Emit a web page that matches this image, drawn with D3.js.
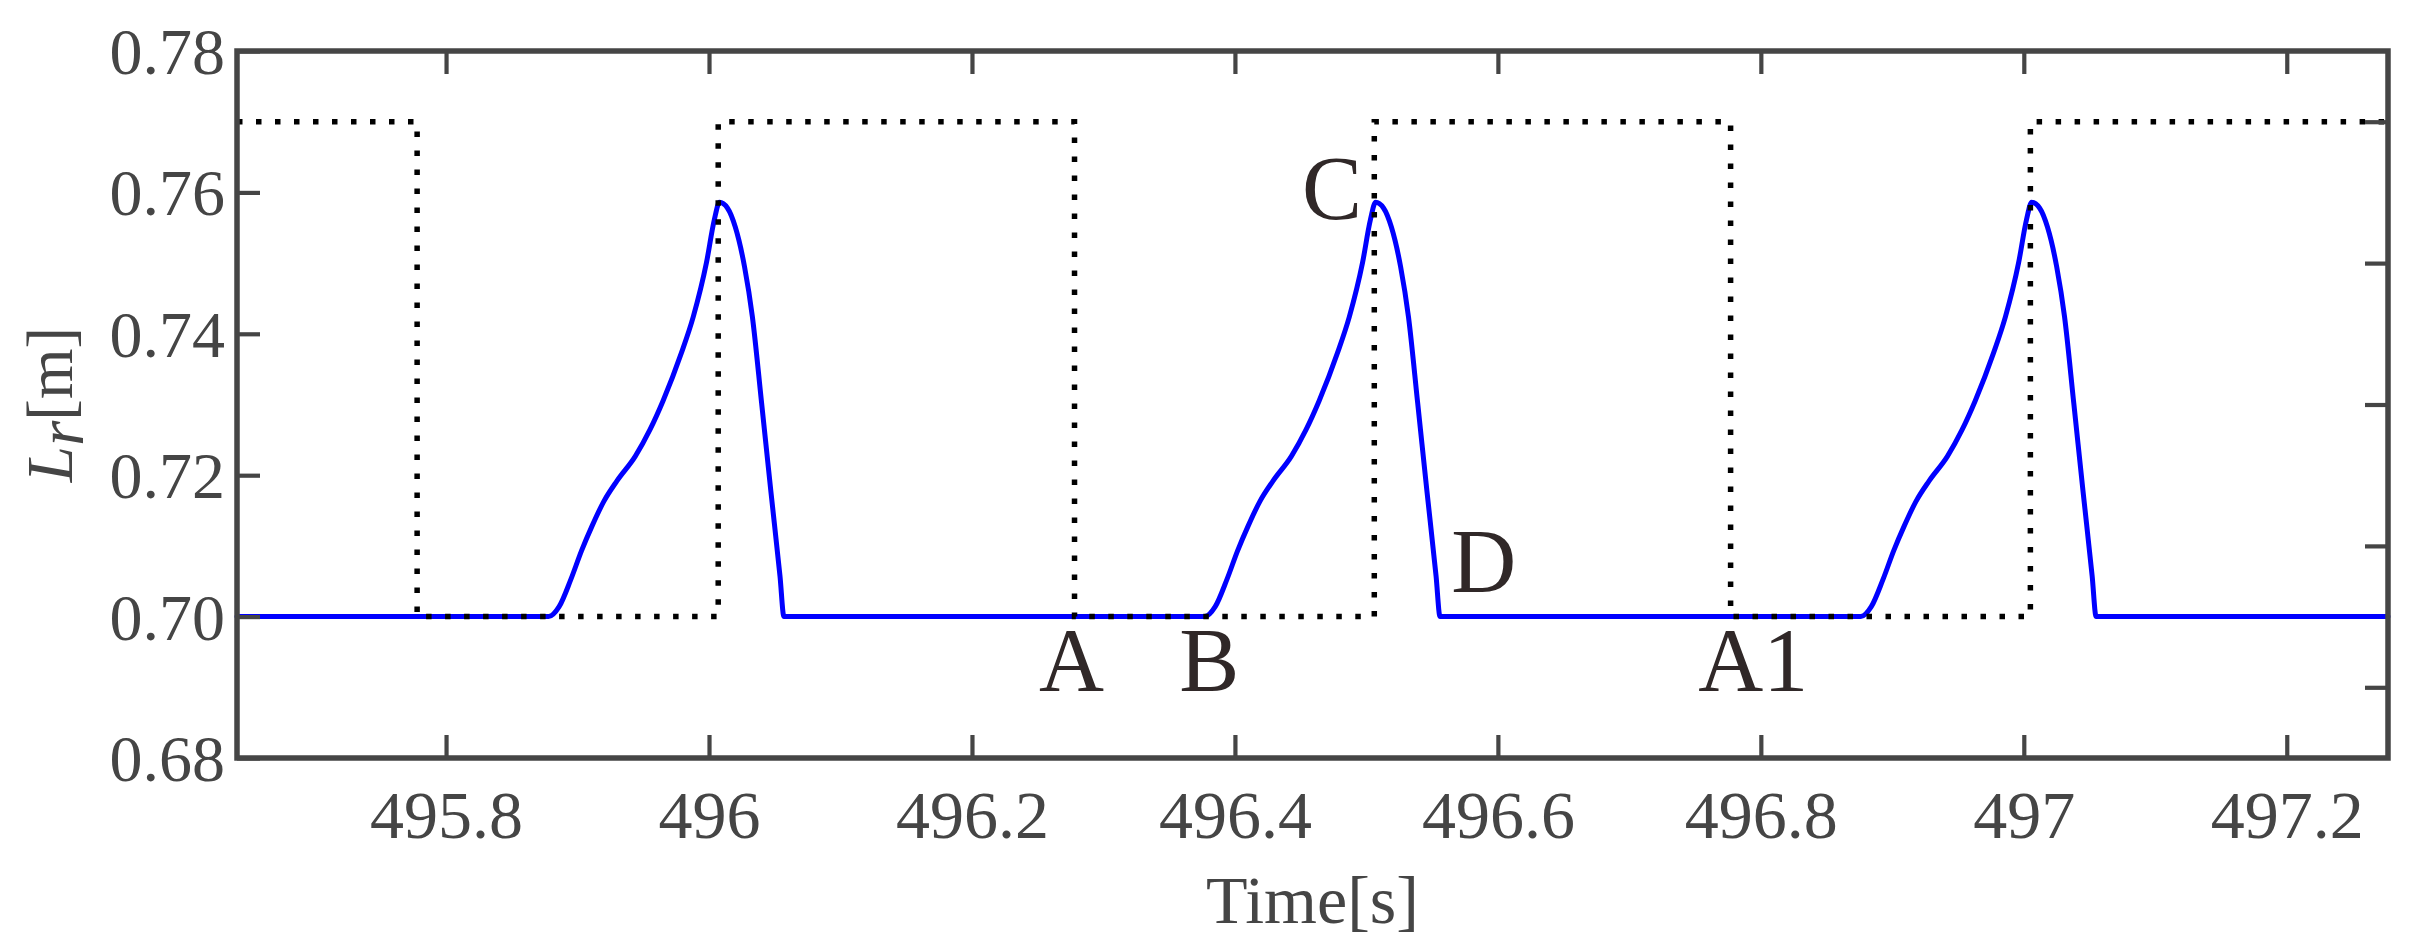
<!DOCTYPE html>
<html>
<head>
<meta charset="utf-8">
<script src="https://cdn.jsdelivr.net/npm/d3@7"></script>
<style>
  html, body { margin: 0; padding: 0; background: #ffffff; }
  svg { display: block; }
</style>
</head>
<body>
<div id="chart"></div>
<script>
  // ---- data ----
  const xDomain = [495.641, 497.277];
  const yDomain = [0.68, 0.78];
  const xTicks = [495.8, 496, 496.2, 496.4, 496.6, 496.8, 497, 497.2];
  const yTicks = [0.68, 0.70, 0.72, 0.74, 0.76, 0.78];
  const yTicksRight = [0.69, 0.71, 0.73, 0.75, 0.77];

  // reference (dotted) square wave
  const refTimes = [495.641, 495.778, 495.778, 496.007, 496.007, 496.278, 496.278,
    496.506, 496.506, 496.777, 496.777, 497.005, 497.005, 497.277];
  const refValues = [0.77, 0.77, 0.70, 0.70, 0.77, 0.77, 0.70,
    0.70, 0.77, 0.77, 0.70, 0.70, 0.77, 0.77];

  // Lr response, three pulses
  const pulse1Times = [495.878, 495.886, 495.895, 495.903, 495.911, 495.920, 495.930, 495.944,
    495.955, 495.965, 495.979, 495.988, 495.998, 496.004, 496.008, 496.014, 496.020, 496.027,
    496.033, 496.040, 496.047, 496.054, 496.057];
  const pulse2Times = [496.377, 496.385, 496.394, 496.402, 496.410, 496.419, 496.429, 496.443,
    496.454, 496.464, 496.478, 496.487, 496.497, 496.503, 496.507, 496.513, 496.519, 496.526,
    496.532, 496.539, 496.546, 496.553, 496.556];
  const pulse3Times = [496.876, 496.884, 496.893, 496.901, 496.909, 496.918, 496.928, 496.942,
    496.953, 496.963, 496.977, 496.986, 496.996, 497.002, 497.006, 497.012, 497.018, 497.025,
    497.031, 497.038, 497.045, 497.052, 497.055];
  const pulseValues = [0.70, 0.7014, 0.7053, 0.7093, 0.7128, 0.7163, 0.7192, 0.7227,
    0.7264, 0.7305, 0.7373, 0.7424, 0.7500, 0.7561, 0.7586, 0.7578, 0.7551, 0.7495,
    0.7424, 0.7302, 0.7178, 0.7057, 0.70];
  const baseLevel = 0.70;

  // point labels (data coords of the letter's left/baseline)
  const noteLabels = ["A", "B", "C", "D", "A1"];
  const noteTimes = [496.251, 496.3576, 496.451, 496.5645, 496.7524];
  const noteValues = [0.6895, 0.6895, 0.7562, 0.7035, 0.6895];

  // ---- layout ----
  const W = 2415, H = 950;
  const margin = { top: 51, right: 27, bottom: 192, left: 237 };
  const iw = W - margin.left - margin.right;
  const ih = H - margin.top - margin.bottom;
  const axisColor = "#454545";
  const serif = "'Liberation Serif', 'Times New Roman', serif";

  const svg = d3.select("#chart").append("svg")
    .attr("width", W).attr("height", H)
    .style("background", "#ffffff");

  const g = svg.append("g")
    .attr("transform", `translate(${margin.left},${margin.top})`);

  const x = d3.scaleLinear().domain(xDomain).range([0, iw]);
  const y = d3.scaleLinear().domain(yDomain).range([ih, 0]);

  // build series
  const blue = [[xDomain[0], baseLevel]];
  [pulse1Times, pulse2Times, pulse3Times].forEach((ts) => {
    ts.forEach((t, i) => blue.push([t, pulseValues[i]]));
  });
  blue.push([xDomain[1], baseLevel]);

  const ref = refTimes.map((t, i) => [t, refValues[i]]);

  const line = d3.line()
    .x((d) => x(d[0]))
    .y((d) => y(d[1]));

  // blue response
  g.append("path")
    .datum(blue)
    .attr("d", line.curve(d3.curveMonotoneX))
    .style("fill", "none")
    .style("stroke", "#0000ff")
    .style("stroke-width", "5px")
    .style("stroke-linejoin", "round")
    .style("stroke-linecap", "round");

  // dotted reference
  g.append("path")
    .datum(ref)
    .attr("d", d3.line().x((d) => x(d[0])).y((d) => y(d[1])))
    .style("fill", "none")
    .style("stroke", "#000000")
    .style("stroke-width", "5.5px")
    .style("stroke-dasharray", "5.5 13.5");

  // ---- axes ----
  function styleAxis(sel) {
    sel.select(".domain").remove();
    sel.selectAll(".tick line")
      .attr("stroke", axisColor)
      .attr("stroke-width", 4.2);
    sel.selectAll("text")
      .attr("fill", axisColor)
      .style("font-family", serif);
  }

  const xAxis = g.append("g")
    .attr("transform", `translate(0,${ih})`)
    .call(d3.axisBottom(x).tickValues(xTicks).tickSizeInner(-23).tickSizeOuter(0)
      .tickFormat(d3.format("")));
  styleAxis(xAxis);
  xAxis.selectAll("text")
    .attr("y", 80).attr("dy", 0)
    .style("font-size", "68px");

  const xTop = g.append("g")
    .call(d3.axisTop(x).tickValues(xTicks).tickSizeInner(-23).tickSizeOuter(0)
      .tickFormat(""));
  styleAxis(xTop);

  const yAxis = g.append("g")
    .call(d3.axisLeft(y).tickValues(yTicks).tickSizeInner(-23).tickSizeOuter(0)
      .tickFormat(d3.format(".2f")));
  styleAxis(yAxis);
  yAxis.selectAll("text")
    .attr("x", -12).attr("dy", "0.34em")
    .style("font-size", "66px");

  const yRight = g.append("g")
    .attr("transform", `translate(${iw},0)`)
    .call(d3.axisRight(y).tickValues(yTicksRight).tickSizeInner(-23).tickSizeOuter(0)
      .tickFormat(""));
  styleAxis(yRight);

  // frame
  g.append("rect")
    .attr("x", 0).attr("y", 0)
    .attr("width", iw).attr("height", ih)
    .style("fill", "none")
    .style("stroke", axisColor)
    .style("stroke-width", "5.5px");

  // axis titles
  g.append("text")
    .attr("x", iw / 2)
    .attr("y", ih + 165)
    .attr("text-anchor", "middle")
    .attr("fill", axisColor)
    .style("font-family", serif)
    .style("font-size", "68px")
    .text("Time[s]");

  const yTitle = g.append("text")
    .attr("transform", `translate(${72 - margin.left},${ih / 2}) rotate(-90)`)
    .attr("text-anchor", "middle")
    .attr("fill", axisColor)
    .style("font-family", serif)
    .style("font-size", "65px");
  yTitle.append("tspan").style("font-style", "italic").text("L");
  yTitle.append("tspan").style("font-style", "italic").attr("dy", 11).text("r");
  yTitle.append("tspan").attr("dy", -11).text("[m]");

  // point labels
  g.selectAll("text.note")
    .data(noteLabels)
    .enter()
    .append("text")
    .attr("class", "note")
    .attr("x", (d, i) => x(noteTimes[i]))
    .attr("y", (d, i) => y(noteValues[i]))
    .attr("fill", "#302828")
    .style("font-family", serif)
    .style("font-size", "90px")
    .text((d) => d);
</script>
</body>
</html>
